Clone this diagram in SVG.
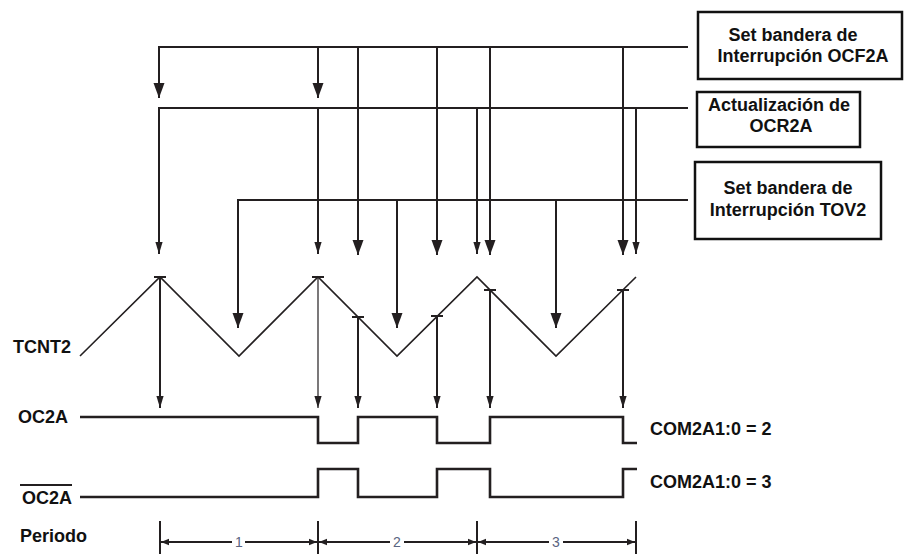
<svg xmlns="http://www.w3.org/2000/svg" width="904" height="554" viewBox="0 0 904 554">
<style>
  .bg { fill: #ffffff; }
  .box { fill: #ffffff; stroke: #111111; stroke-width: 2.5; }
  .lbl { font-family: "Liberation Sans", Arial, sans-serif; font-weight: bold; font-size: 18px; fill: #111111; }
  .num { font-family: "Liberation Sans", Arial, sans-serif; font-size: 14px; fill: #5a6480; text-anchor: middle; }
  .ln { fill: none; stroke: #231f20; stroke-width: 2; }
  .thin { fill: none; stroke: #231f20; stroke-width: 1.2; }
  .wave { fill: none; stroke: #231f20; stroke-width: 1.6; }
  .sig { fill: none; stroke: #231f20; stroke-width: 2.6; }
  .tick { stroke: #231f20; stroke-width: 2; }
  .mid { text-anchor: middle; }
</style>
<defs>
  <marker id="big" viewBox="0 -6 15 12" refX="15" refY="0" markerWidth="15" markerHeight="12" markerUnits="userSpaceOnUse" orient="auto">
    <path d="M0,-5.5 L15,0 L0,5.5 z" fill="#231f20"/>
  </marker>
  <marker id="sm" viewBox="0 -4 12 8" refX="12" refY="0" markerWidth="12" markerHeight="8" markerUnits="userSpaceOnUse" orient="auto">
    <path d="M0,-3.6 L12,0 L0,3.6 z" fill="#231f20"/>
  </marker>
  <marker id="per" viewBox="0 -4 8 8" refX="8" refY="0" markerWidth="8" markerHeight="8" markerUnits="userSpaceOnUse" orient="auto-start-reverse">
    <path d="M0,-3.2 L8,0 L0,3.2 z" fill="#231f20"/>
  </marker>
</defs>
<rect class="bg" x="0" y="0" width="904" height="554"/>

<g id="box-ocf2a">
  <rect class="box" x="698" y="12" width="204" height="67"/>
  <text class="lbl mid" x="793" y="41">Set bandera de</text>
  <text class="lbl mid" x="803" y="62">Interrupción OCF2A</text>
</g>
<g id="box-ocr2a">
  <rect class="box" x="697" y="92" width="163" height="55"/>
  <text class="lbl mid" x="779" y="111">Actualización de</text>
  <text class="lbl mid" x="781" y="132">OCR2A</text>
</g>
<g id="box-tov2">
  <rect class="box" x="695" y="162" width="186" height="77"/>
  <text class="lbl mid" x="788" y="194">Set bandera de</text>
  <text class="lbl mid" x="788" y="216">Interrupción TOV2</text>
</g>

<g id="labels">
  <text class="lbl" x="13" y="353">TCNT2</text>
  <text class="lbl" x="18" y="423">OC2A</text>
  <text class="lbl" x="22" y="504">OC2A</text>
  <line class="ln" x1="20" y1="485" x2="72" y2="485"/>
  <text class="lbl" x="20" y="542">Periodo</text>
  <text class="lbl" x="650" y="435">COM2A1:0 = 2</text>
  <text class="lbl" x="650" y="488">COM2A1:0 = 3</text>
</g>

<g id="connectors">
  <!-- OCF2A bus -->
  <path class="ln" d="M688,47 H159 V98" marker-end="url(#big)"/>
  <line class="ln" x1="318" y1="47" x2="318" y2="98" marker-end="url(#big)"/>
  <line class="ln" x1="358" y1="47" x2="358" y2="255" marker-end="url(#big)"/>
  <line class="ln" x1="437" y1="47" x2="437" y2="255" marker-end="url(#big)"/>
  <line class="ln" x1="490" y1="47" x2="490" y2="255" marker-end="url(#big)"/>
  <line class="ln" x1="623" y1="47" x2="623" y2="255" marker-end="url(#big)"/>
  <!-- OCR2A bus -->
  <path class="ln" d="M688,108 H159 V254" marker-end="url(#sm)"/>
  <line class="ln" x1="318" y1="108" x2="318" y2="254" marker-end="url(#sm)"/>
  <line class="ln" x1="477" y1="108" x2="477" y2="254" marker-end="url(#sm)"/>
  <line class="ln" x1="636" y1="108" x2="636" y2="254" marker-end="url(#sm)"/>
  <!-- TOV2 bus -->
  <path class="ln" d="M688,200 H238 V328" marker-end="url(#big)"/>
  <line class="ln" x1="397" y1="200" x2="397" y2="328" marker-end="url(#big)"/>
  <line class="ln" x1="556" y1="200" x2="556" y2="328" marker-end="url(#big)"/>
  <!-- compare match to OC2A -->
  <line class="ln" x1="160" y1="277" x2="160" y2="408" marker-end="url(#sm)"/>
  <line class="thin" x1="318" y1="277" x2="318" y2="408" marker-end="url(#sm)"/>
  <line class="ln" x1="358" y1="317" x2="358" y2="408" marker-end="url(#sm)"/>
  <line class="ln" x1="437" y1="316" x2="437" y2="408" marker-end="url(#sm)"/>
  <line class="ln" x1="490" y1="290" x2="490" y2="408" marker-end="url(#sm)"/>
  <line class="ln" x1="623" y1="290" x2="623" y2="408" marker-end="url(#sm)"/>
</g>

<g id="tcnt2">
  <polyline class="wave" points="80,356 160,277 239,356 318,277 397,356 477,277 556,356 636,277"/>
  <line class="tick" x1="154" y1="277" x2="166" y2="277"/>
  <line class="tick" x1="312" y1="277" x2="324" y2="277"/>
  <line class="tick" x1="352" y1="317" x2="364" y2="317"/>
  <line class="tick" x1="431" y1="316" x2="443" y2="316"/>
  <line class="tick" x1="484" y1="290" x2="496" y2="290"/>
  <line class="tick" x1="617" y1="290" x2="629" y2="290"/>
</g>

<g id="oc2a">
  <path class="sig" d="M80,417 H318 V443 H358 V417 H437 V443 H490 V417 H623 V443 H637"/>
</g>
<g id="oc2a-inv">
  <path class="sig" d="M80,497 H318 V469 H358 V497 H437 V469 H490 V497 H623 V469 H637"/>
</g>

<g id="periodo">
  <line class="ln" x1="160" y1="521" x2="160" y2="554"/>
  <line class="ln" x1="318" y1="521" x2="318" y2="554"/>
  <line class="ln" x1="477" y1="521" x2="477" y2="554"/>
  <line class="ln" x1="636" y1="521" x2="636" y2="554"/>
  <line class="ln" x1="232" y1="542" x2="161" y2="542" marker-end="url(#per)"/>
  <line class="ln" x1="245" y1="542" x2="317" y2="542" marker-end="url(#per)"/>
  <line class="ln" x1="390" y1="542" x2="319" y2="542" marker-end="url(#per)"/>
  <line class="ln" x1="404" y1="542" x2="476" y2="542" marker-end="url(#per)"/>
  <line class="ln" x1="549" y1="542" x2="478" y2="542" marker-end="url(#per)"/>
  <line class="ln" x1="563" y1="542" x2="635" y2="542" marker-end="url(#per)"/>
  <text class="num" x="239" y="547">1</text>
  <text class="num" x="397" y="547">2</text>
  <text class="num" x="556" y="547">3</text>
</g>
</svg>
